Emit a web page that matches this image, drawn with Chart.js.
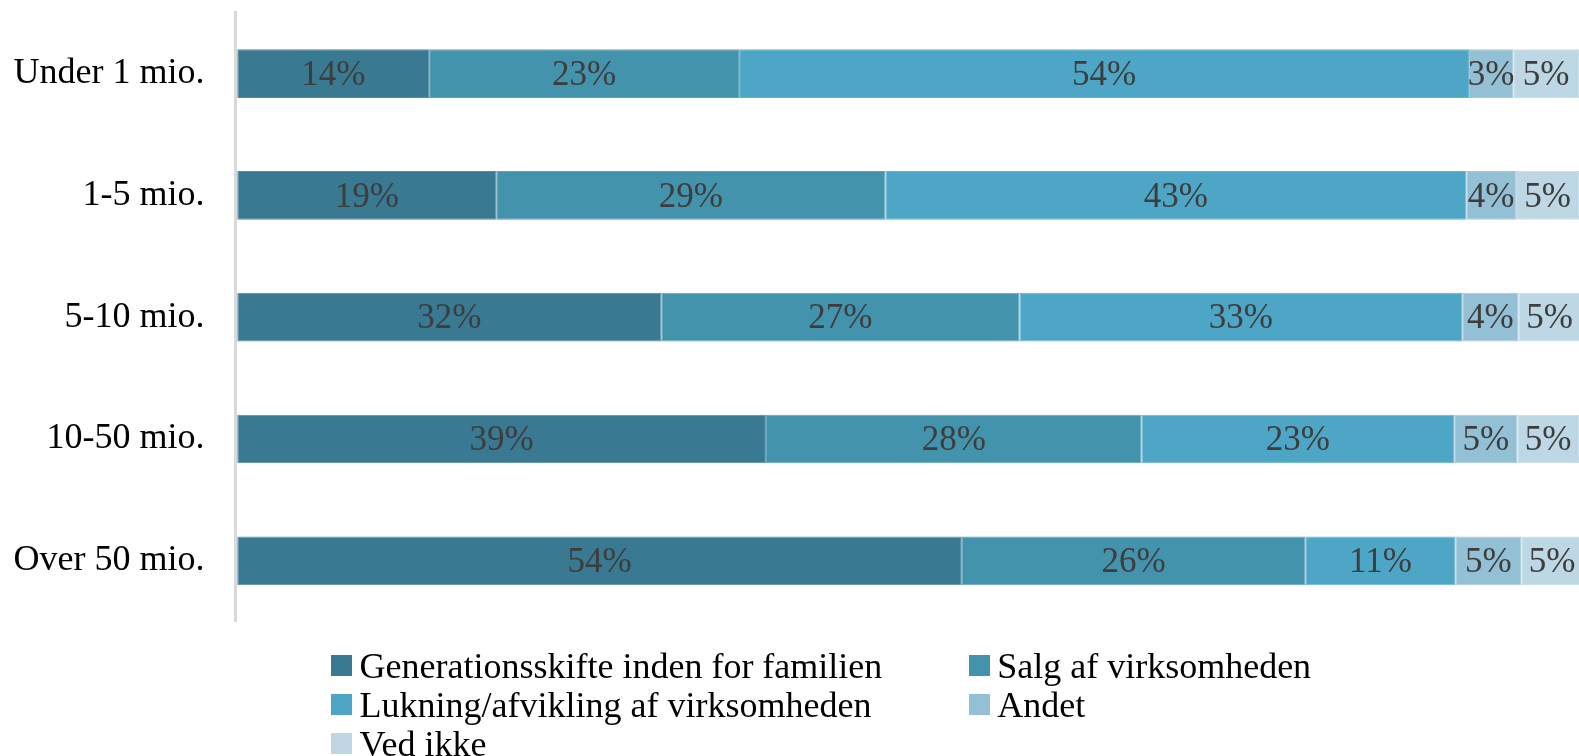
<!DOCTYPE html>
<html>
<head>
<meta charset="utf-8">
<script src="https://cdn.jsdelivr.net/npm/chart.js@4/dist/chart.umd.min.js"></script>
<style>
  html, body { margin: 0; padding: 0; background: #ffffff; overflow: hidden; }
  #wrap { position: relative; width: 1579px; height: 756px; }
  #legend {
    position: absolute; left: 331px; top: 646px;
    display: grid; grid-template-columns: 637.7px auto;
    font-family: "Liberation Serif", "Times New Roman", serif; font-size: 36px; color: #000;
  }
  .item { display: flex; align-items: center; height: 39px; white-space: nowrap; }
  .box { width: 21px; height: 21px; margin-right: 7.5px; flex: none; }
</style>
</head>
<body>
<div id="wrap">
  <canvas id="c" width="1579" height="756"></canvas>
  <div id="legend"></div>
</div>
<script>
const categories = ["Under 1 mio.", "1-5 mio.", "5-10 mio.", "10-50 mio.", "Over 50 mio."];
const seriesNames = ["Generationsskifte inden for familien", "Salg af virksomheden", "Lukning/afvikling af virksomheden", "Andet", "Ved ikke"];
const generationsskifte = [14.3, 19.3, 31.6, 39.4, 54.0];
const salg = [23.1, 29.0, 26.7, 28.0, 25.6];
const lukning = [54.4, 43.3, 33.0, 23.3, 11.2];
const andet = [3.3, 3.7, 4.2, 4.7, 4.9];
const vedIkke = [4.9, 4.7, 4.6, 4.6, 4.6];
const colors = ["#3a7992", "#4493ad", "#4ea6c6", "#93c0d5", "#bdd7e4"];

const seriesValues = [generationsskifte, salg, lukning, andet, vedIkke];

function tint(hex, f) {
  const n = parseInt(hex.slice(1), 16);
  const r = (n >> 16) & 255, g = (n >> 8) & 255, b = n & 255;
  const m = c => Math.round(c + (255 - c) * f);
  return 'rgb(' + m(r) + ',' + m(g) + ',' + m(b) + ')';
}

const labelPlugin = {
  id: 'segLabels',
  afterDatasetsDraw(chart) {
    const ctx = chart.ctx;
    ctx.save();
    ctx.font = '35px "Liberation Serif", "Times New Roman", serif';
    ctx.fillStyle = '#3d3d3d';
    ctx.textAlign = 'center';
    ctx.textBaseline = 'middle';
    chart.data.datasets.forEach((ds, i) => {
      const meta = chart.getDatasetMeta(i);
      meta.data.forEach((el, j) => {
        const p = el.getProps(['x', 'y', 'base'], true);
        const cx = (p.x + p.base) / 2;
        ctx.fillText(Math.round(ds.data[j]) + '%', cx, p.y + 2);
      });
    });
    ctx.restore();
  }
};

const chart = new Chart(document.getElementById('c'), {
  type: 'bar',
  data: {
    labels: categories,
    datasets: seriesNames.map((name, i) => ({
      label: name,
      data: seriesValues[i],
      backgroundColor: colors[i],
      borderColor: tint(colors[i], 0.15),
      borderWidth: 1,
      borderSkipped: false,
      categoryPercentage: 1,
      barPercentage: 0.4
    }))
  },
  options: {
    indexAxis: 'y',
    responsive: false,
    animation: false,
    layout: { padding: { top: 12.7, bottom: 134.3, left: 0, right: 0 } },
    plugins: { legend: { display: false }, tooltip: { enabled: false } },
    scales: {
      x: {
        stacked: true, min: -0.11, max: 100, display: false
      },
      y: {
        stacked: true,
        grid: { display: false, drawTicks: false },
        border: { display: true, color: '#d9d9d9', width: 3 },
        ticks: {
          color: '#000',
          padding: 31.4,
          font: { family: '"Liberation Serif", "Times New Roman", serif', size: 36 }
        },
        afterFit(scale) {
          scale.width = 235.8;
          scale.paddingTop = 0;
          scale.paddingBottom = 0;
        }
      }
    }
  },
  plugins: [labelPlugin]
});

const legend = document.getElementById('legend');
chart.data.datasets.forEach(ds => {
  const item = document.createElement('div');
  item.className = 'item';
  const box = document.createElement('span');
  box.className = 'box';
  box.style.background = ds.backgroundColor;
  const txt = document.createElement('span');
  txt.textContent = ds.label;
  item.appendChild(box);
  item.appendChild(txt);
  legend.appendChild(item);
});
</script>
</body>
</html>
